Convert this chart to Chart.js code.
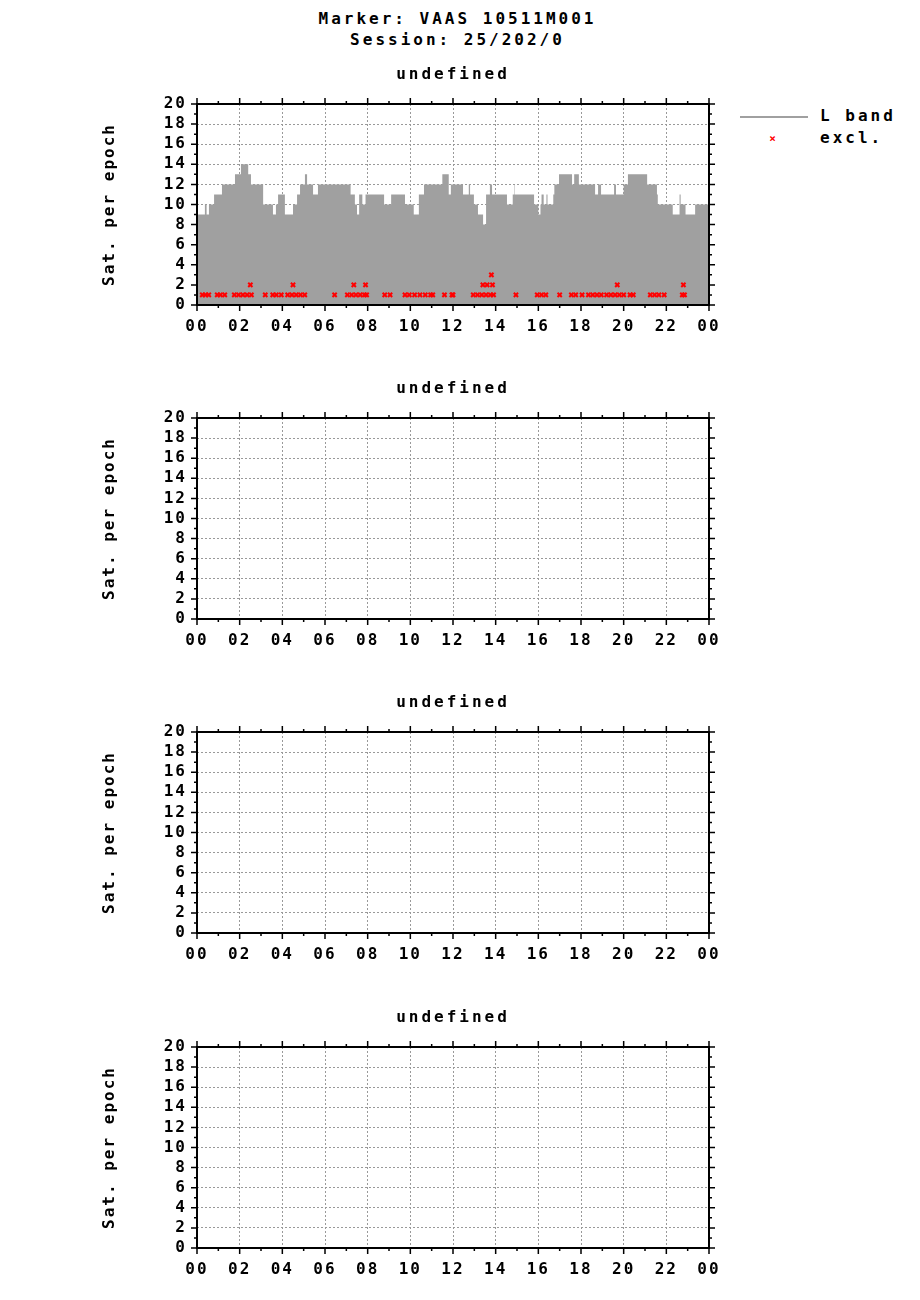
<!DOCTYPE html>
<html><head><meta charset="utf-8">
<script src="https://cdn.jsdelivr.net/npm/chart.js@4"></script>
<style>
body { margin: 0; background: #fff; width: 920px; height: 1300px; position: relative; font: bold 16px "DejaVu Sans Mono", monospace; letter-spacing: 3px; }
.t { position: absolute; left: 0; width: 915px; text-align: center; }
canvas { position: absolute; left: 0; }
.leg { position: absolute; left: 740px; }
</style></head>
<body>
<div class="t" style="top:9px">Marker: VAAS 10511M001</div>
<div class="t" style="top:30px">Session: 25/202/0</div>
<div class="leg" style="top:106px"><span style="display:inline-block;width:68px;border-top:2px solid #a0a0a0;vertical-align:middle;margin-right:12px"></span>L band</div>
<div class="leg" style="top:128px"><span style="display:inline-block;width:68px;text-align:center;color:#f00;font-size:11px;vertical-align:middle;margin-right:12px">×</span>excl.</div>
<canvas id="c0" width="920" height="295" style="top:60px"></canvas>
<canvas id="c1" width="920" height="295" style="top:374px"></canvas>
<canvas id="c2" width="920" height="295" style="top:688px"></canvas>
<canvas id="c3" width="920" height="295" style="top:1003px"></canvas>
<script>
const titles = ['32 GPS satellites in 2880 epochs', '0 GLO satellites in 0 epochs',
  '0 GAL satellites in 0 epochs', '0 BDS satellites in 0 epochs'];

// GPS satellites per epoch: [hour where value starts, count]
const gpsSteps = [
  [0, 11], [0.37, 9], [0.45, 10], [0.56, 9], [0.8, 10], [1.17, 11], [1.78, 12], [2.06, 13],
  [2.4, 14], [2.53, 13], [3.1, 12], [3.56, 10], [3.7, 9], [3.8, 10], [4.12, 11], [4.5, 9],
  [4.69, 10], [4.83, 11], [5.06, 12], [5.16, 13], [5.44, 12], [5.67, 11], [7.2, 12], [7.4, 11],
  [7.5, 10], [7.6, 9], [7.75, 11], [7.9, 10], [8.77, 11], [9.1, 10], [9.75, 11], [10.16, 10],
  [10.4, 9], [10.64, 11], [11.5, 12], [11.8, 13], [11.9, 11], [12.47, 12], [12.74, 11], [12.8, 12],
  [12.98, 11], [13.17, 10], [13.41, 9], [13.55, 8], [13.73, 11], [13.83, 12], [14.53, 11],
  [14.8, 10], [14.88, 11], [14.9, 12], [15.8, 11], [16.0, 10], [16.1, 9], [16.15, 10], [16.25, 11],
  [16.38, 10], [16.43, 11], [16.7, 10], [16.75, 11], [16.97, 12], [17.58, 13], [17.68, 12],
  [17.9, 13], [18.66, 12], [18.8, 11], [18.94, 12], [19.55, 11], [19.64, 12], [20.0, 11],
  [20.2, 12], [21.1, 13], [21.56, 12], [21.6, 11], [22.3, 10], [22.62, 9], [22.67, 11],
  [22.9, 10], [23.35, 9], [23.6, 10], [24, 10]
];
// excluded observations: [hour, count]
const excl = [
  [0.25, 1], [0.4, 1], [0.55, 1], [0.95, 1], [1.1, 1], [1.3, 1], [1.75, 1], [1.95, 1], [2.15, 1],
  [2.35, 1], [2.55, 1], [2.5, 2], [3.2, 1], [3.55, 1], [3.72, 1], [3.95, 1], [4.25, 1], [4.45, 1],
  [4.65, 1], [4.85, 1], [5.05, 1], [4.5, 2], [6.45, 1], [7.05, 1], [7.25, 1], [7.45, 1], [7.65, 1],
  [7.85, 1], [7.95, 1], [7.35, 2], [7.9, 2], [8.8, 1], [9.05, 1], [9.75, 1], [9.95, 1], [10.2, 1],
  [10.45, 1], [10.7, 1], [10.95, 1], [11.05, 1], [11.6, 1], [11.95, 1], [12.0, 1], [12.95, 1],
  [13.15, 1], [13.35, 1], [13.55, 1], [13.75, 1], [13.9, 1], [13.4, 2], [13.6, 2], [13.85, 2],
  [13.8, 3], [14.95, 1], [15.95, 1], [16.15, 1], [16.35, 1], [17.0, 1], [17.55, 1], [17.75, 1],
  [18.05, 1], [18.35, 1], [18.55, 1], [18.75, 1], [18.95, 1], [19.2, 1], [19.4, 1], [19.6, 1],
  [19.8, 1], [20.0, 1], [20.3, 1], [20.45, 1], [19.7, 2], [21.25, 1], [21.45, 1], [21.65, 1],
  [21.9, 1], [22.75, 1], [22.85, 1], [22.8, 2]
];

const FONT = { family: '"DejaVu Sans Mono", monospace', size: 16, weight: 'bold' };

// Chart.js does not touch letterSpacing, so set it once per draw for all text
const spacingPlugin = {
  id: 'spacing',
  beforeDraw(chart) { chart.ctx.letterSpacing = '2px'; },
};

const framePlugin = {
  id: 'frame',
  afterDraw(chart) {
    const { ctx, chartArea: a } = chart;
    const x = chart.scales.x, y = chart.scales.y;
    ctx.save();
    ctx.strokeStyle = '#000';
    ctx.lineWidth = 2;
    ctx.strokeRect(a.left, a.top, a.right - a.left, a.bottom - a.top);
    ctx.lineWidth = 1.5;
    ctx.beginPath();
    for (let v = 0; v <= 20; v++) {
      const py = y.getPixelForValue(v), len = v % 2 ? 3 : 6;
      ctx.moveTo(a.left - len, py); ctx.lineTo(a.left, py);
      ctx.moveTo(a.right, py); ctx.lineTo(a.right + len, py);
    }
    for (let h = 0; h <= 24; h++) {
      const px = x.getPixelForValue(h), len = h % 2 ? 3 : 6;
      ctx.moveTo(px, a.bottom); ctx.lineTo(px, a.bottom + len);
      ctx.moveTo(px, a.top); ctx.lineTo(px, a.top - len);
    }
    ctx.stroke();
    ctx.fillStyle = '#000';
    ctx.font = 'bold 16px "DejaVu Sans Mono", monospace';
    ctx.letterSpacing = '3px';
    ctx.textAlign = 'center';
    ctx.fillText(chart.$title, (a.left + a.right) / 2, a.top - 25);
    ctx.restore();
  },
};

titles.forEach((title, i) => {
  const datasets = i === 0 ? [
    { label: 'excl.', data: excl.map(([x, y]) => ({ x, y })), showLine: false,
      pointStyle: 'crossRot', pointRadius: 3, borderColor: '#ff0000', borderWidth: 2, order: 0 },
    { label: 'L band', data: gpsSteps.map(([x, y]) => ({ x, y })), showLine: true, stepped: 'after',
      fill: 'origin', backgroundColor: '#a0a0a0', borderColor: '#a0a0a0', borderWidth: 0,
      pointRadius: 0, order: 1 },
  ] : [];
  const chart = new Chart(document.getElementById('c' + i), {
    type: 'scatter',
    data: { datasets },
    options: {
      responsive: false, animation: false,
      layout: { padding: { left: 100, right: 211, top: 44, bottom: 0 } },
      plugins: { legend: { display: false }, tooltip: { enabled: false } },
      scales: {
        x: { type: 'linear', min: 0, max: 24,
             afterFit: s => { s.height = 50; },
             ticks: { stepSize: 2, autoSkip: false, color: '#000', font: FONT, maxRotation: 0, padding: 12,
                      callback: v => String(v % 24).padStart(2, '0') },
             grid: { color: '#999', lineWidth: 1, drawTicks: false },
             border: { display: false, dash: [2, 2] } },
        y: { min: 0, max: 20,
             afterFit: s => { s.width = 97; },
             ticks: { stepSize: 2, autoSkip: false, color: '#000', font: FONT, padding: 10 },
             title: { display: true, text: 'Sat. per epoch', color: '#000', font: FONT, padding: 0 },
             grid: { color: '#999', lineWidth: 1, drawTicks: false },
             border: { display: false, dash: [2, 2] } },
      },
    },
    plugins: [spacingPlugin, framePlugin],
  });
  chart.$title = title;
});
</script>
</body></html>
